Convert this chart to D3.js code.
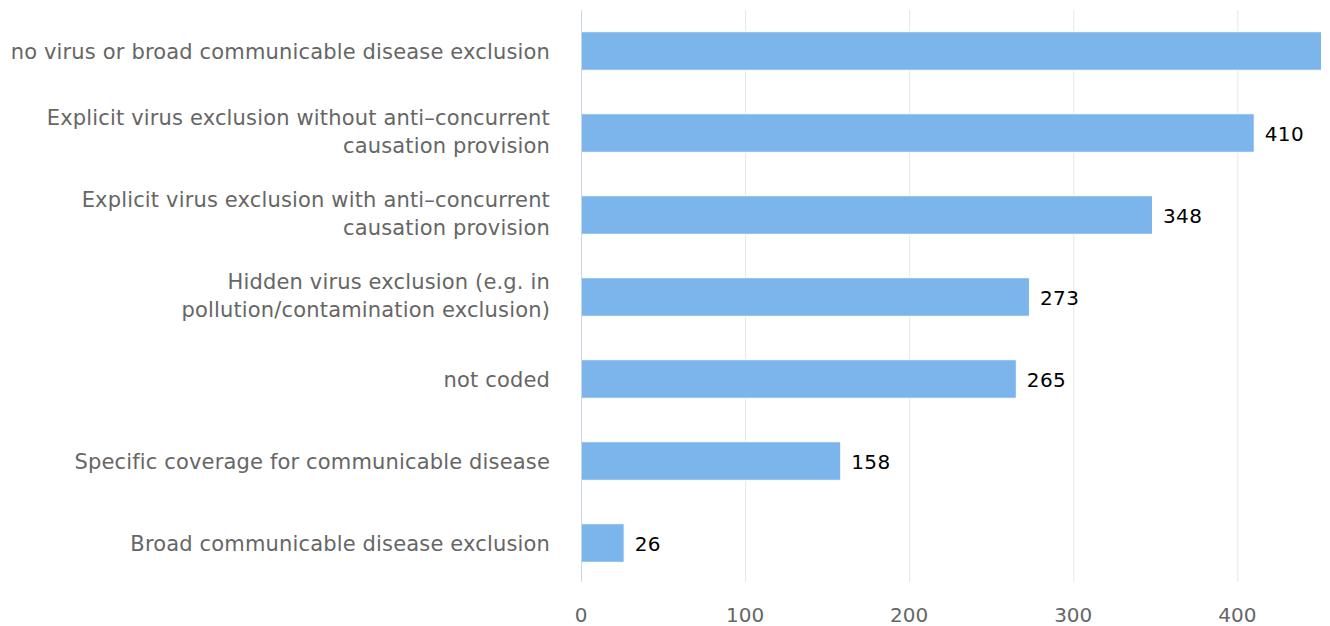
<!DOCTYPE html>
<html>
<head>
<meta charset="utf-8">
<script src="https://cdn.jsdelivr.net/npm/d3@7"></script>
<style>
  html, body { margin: 0; padding: 0; background: #fff; }
  svg { display: block; font-family: "DejaVu Sans", sans-serif; }
</style>
</head>
<body>
<svg id="chart" width="1330" height="626"></svg>
<script>
// Policy wording categories and counts
const categories = [
  ["no virus or broad communicable disease exclusion"],
  ["Explicit virus exclusion without anti\u2013concurrent", "causation provision"],
  ["Explicit virus exclusion with anti\u2013concurrent", "causation provision"],
  ["Hidden virus exclusion (e.g. in", "pollution/contamination exclusion)"],
  ["not coded"],
  ["Specific coverage for communicable disease"],
  ["Broad communicable disease exclusion"]
];
const counts = [470, 410, 348, 273, 265, 158, 26];
const tickValues = [0, 100, 200, 300, 400];

const svg = d3.select("#chart");
const plotLeft = 581, plotRight = 1321, plotTop = 10, plotBottom = 584;

const x = d3.scaleLinear().domain([0, 451]).range([plotLeft, plotRight]);
const y = d3.scaleBand().domain(d3.range(categories.length)).range([plotTop, plotBottom])
  .paddingInner(0.53).paddingOuter(0.265);

// vertical grid lines
svg.append("g").selectAll("line").data(tickValues.filter(d => d > 0)).join("line")
  .attr("x1", d => x(d) + 0.5).attr("x2", d => x(d) + 0.5)
  .attr("y1", plotTop).attr("y2", plotBottom - 2)
  .attr("stroke", "#e6e6e6").attr("stroke-width", 1);

// clip bars to the plot area
svg.append("clipPath").attr("id", "plot")
  .append("rect").attr("x", plotLeft).attr("y", plotTop)
  .attr("width", plotRight - plotLeft).attr("height", plotBottom - plotTop);

svg.append("g").attr("clip-path", "url(#plot)").selectAll("rect").data(counts).join("rect")
  .attr("x", x(0) + 0.5)
  .attr("y", (d, i) => y(i))
  .attr("width", d => x(d) - x(0))
  .attr("height", y.bandwidth())
  .attr("fill", "#7cb5ec")
  .attr("stroke", "#ffffff")
  .attr("stroke-width", 1);

// category axis line
svg.append("line")
  .attr("x1", plotLeft + 0.5).attr("x2", plotLeft + 0.5)
  .attr("y1", plotTop).attr("y2", plotBottom - 2)
  .attr("stroke", "#ccd6eb").attr("stroke-width", 1);

// value labels (only those that fit inside the plot)
svg.append("g").selectAll("text")
  .data(counts.map((v, i) => ({v, i})).filter(d => x(d.v) + 50 < plotRight + 10))
  .join("text")
  .attr("x", d => x(d.v) + 11)
  .attr("y", d => y(d.i) + y.bandwidth() / 2 + 8)
  .attr("font-size", 20)
  .attr("letter-spacing", 0.4)
  .attr("fill", "#000")
  .text(d => d.v);

// category labels, wrapped onto one or two lines
const lineH = 27.5;
const cat = svg.append("g").selectAll("text").data(categories).join("text")
  .attr("text-anchor", "end")
  .attr("font-size", 21)
  .attr("letter-spacing", 0.16)
  .attr("fill", "#666666");
cat.each(function(lines, i) {
  const t = d3.select(this);
  const cy = y(i) + y.bandwidth() / 2;
  const first = lines.length === 1 ? cy + 8 : cy - 8;
  lines.forEach((ln, k) => {
    t.append("tspan").attr("x", 550).attr("y", first + k * lineH).text(ln);
  });
});

// value axis tick labels
svg.append("g").selectAll("text").data(tickValues).join("text")
  .attr("x", d => x(d))
  .attr("y", 622)
  .attr("text-anchor", "middle")
  .attr("font-size", 20)
  .attr("fill", "#666666")
  .text(d => d);
</script>
</body>
</html>
